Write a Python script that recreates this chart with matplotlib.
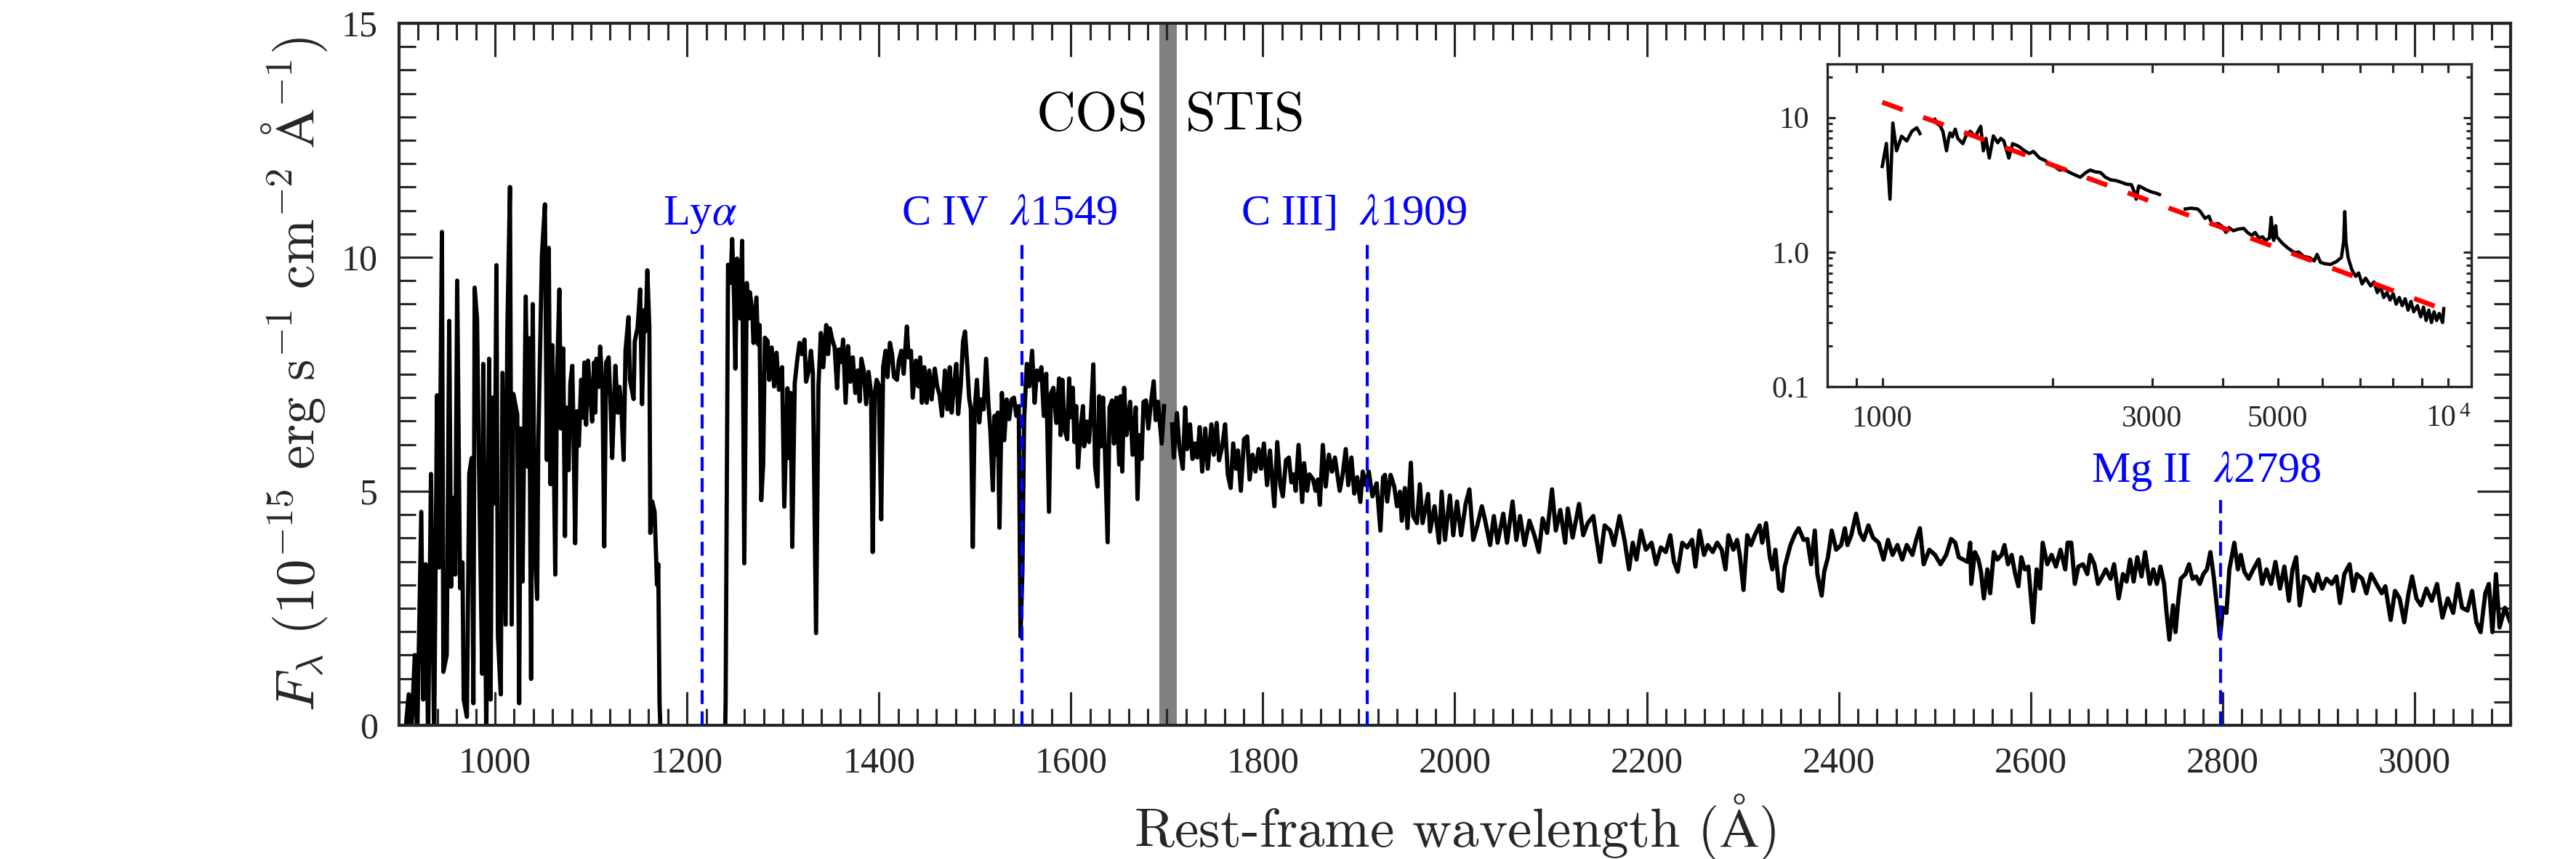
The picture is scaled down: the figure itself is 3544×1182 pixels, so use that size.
import numpy as np
import matplotlib
matplotlib.use("Agg")
import matplotlib.pyplot as plt
from matplotlib.ticker import MultipleLocator, FixedLocator, NullFormatter

plt.rcParams['font.family'] = 'serif'
plt.rcParams['font.serif'] = ['Liberation Serif', 'DejaVu Serif']
plt.rcParams['mathtext.fontset'] = 'cm'

AXC = '#262626'

# ---- main spectrum, COS blue of Lya (flux in 1e-15 erg/s/cm2/A) ----
cos1_wave = [905, 910.1, 912.6, 916.4, 918.9, 923.2, 925.2, 927.8, 930.3, 933.3, 936.6, 939.6, 941.7,
             944.7, 946.2, 949.7, 952.3, 954.3, 956.8, 958.6, 960.6, 963.6, 966.1, 967.4, 970.7,
             973.2, 975.7, 977.5, 978.8, 981.3, 983.3, 986.6, 987.8, 990.9, 993.9, 995.4, 997.2,
             999.7, 1001.5, 1003.0, 1006.0, 1007.8, 1011.1, 1012.8, 1015.6, 1017.4, 1019.1, 1023.2,
             1025.2, 1026.7, 1028.7, 1032.0, 1034.5, 1035.6, 1037.6, 1039.3, 1041.4, 1043.9, 1045.1,
             1048.9, 1052.0, 1054.0, 1056.0, 1057.8, 1059.8, 1062.8, 1064.6, 1067.1, 1068.6, 1071.1,
             1072.9, 1074.2, 1076.7, 1078.5, 1080.5, 1081.7, 1083.5, 1085.5, 1087.3, 1089.8, 1091.8,
             1093.1, 1094.9, 1096.9, 1099.4, 1101.2, 1103.2, 1104.5, 1105.7, 1108.3, 1109.5, 1112.0,
             1113.8, 1115.8, 1118.4, 1120.4, 1122.1, 1125.4, 1127.9, 1129.7, 1131.5, 1134.0, 1136.0,
             1139.1, 1140.6, 1144.4, 1145.6, 1148.6, 1151.2, 1153.2, 1155.5, 1157.0, 1158.7, 1160.8,
             1161.8, 1163.8, 1166.3, 1168.8, 1170.1, 1171.4, 1173.0]
cos1_flux = [-0.5, 0.66, -0.3, 1.5, -0.3, 4.56, 0.55, 3.44, -0.3, 5.37, -0.3, 7.05, 3.37,
             10.54, 1.14, 1.5, 8.64, 2.96, 4.86, 3.22, 9.5, 2.93, 3.48, 0.55, 0.18,
             5.38, 5.71, 0.47, 9.35, 8.68, 5.6, 1.1, 7.72, -0.3, 7.83, 0.55, 7.0,
             4.74, 9.83, 1.92, 0.66, 7.53, 2.15, 8.35, 11.5, 2.15, 7.08, 6.64,
             0.47, 6.34, 3.07, 9.16, 5.52, 8.27, 0.99, 9.0, 3.89, 2.7, 6.04,
             10.05, 11.13, 5.67, 10.2, 5.15, 8.12, 3.22, 7.42, 9.31, 6.34, 8.05,
             4.04, 6.79, 5.45, 7.31, 7.68, 6.42, 3.89, 6.71, 5.97, 7.38, 6.57,
             7.75, 6.42, 7.79, 7.01, 6.49, 7.75, 6.68, 7.83, 7.23, 8.09, 7.2,
             3.82, 7.75, 7.86, 6.86, 5.71, 7.68, 6.68, 7.23, 6.86, 5.67, 8.01,
             8.72, 7.38, 6.97, 8.2, 8.5, 9.31, 6.86, 8.87, 8.42, 9.72, 8.5,
             4.11, 4.78, 4.56, 3.0, 3.44, 0.5, -0.5]

# ---- main spectrum, COS red of Lya ----
cos2_wave = [1239.5, 1240.3, 1242.8, 1245.4, 1247.1, 1249.1, 1250.4, 1252.2, 1254.2, 1255.5, 1257.5,
             1259.7, 1262.3, 1264.3, 1265.6, 1268.1, 1269.3, 1272.4, 1273.9, 1275.7, 1277.4, 1279.4,
             1281.2, 1284.0, 1285.7, 1288.3, 1290.8, 1293.3, 1295.8, 1299.1, 1301.4, 1304.7, 1305.9,
             1308.0, 1309.7, 1312.3, 1314.8, 1317.3, 1319.8, 1322.4, 1324.1, 1326.9, 1329.2, 1331.2,
             1334.5, 1337.0, 1339.5, 1342.0, 1345.1, 1347.1, 1348.9, 1351.4, 1353.9, 1356.4, 1358.4,
             1360.7, 1362.7, 1365.3, 1367.8, 1370.3, 1372.8, 1375.4, 1377.9, 1379.9, 1381.7, 1384.2,
             1386.7, 1389.2, 1391.8, 1393.5, 1395.6, 1397.6, 1399.8, 1402.4, 1404.4, 1406.9, 1408.9,
             1411.5, 1413.7, 1415.7, 1418.8, 1420.8, 1423.3, 1425.8, 1429.1, 1430.9, 1433.4, 1435.2,
             1438.5, 1441.0, 1443.0, 1444.8, 1447.3, 1449.8, 1452.4, 1454.9, 1458.2, 1460.7, 1463.2,
             1465.7, 1468.8, 1471.3, 1473.8, 1475.8, 1478.4, 1480.6, 1482.6, 1485.2, 1487.7, 1489.7,
             1492.0, 1494.0, 1495.8, 1497.8, 1499.8, 1502.1, 1504.6, 1506.6, 1509.1, 1511.7, 1514.2,
             1516.2, 1518.7, 1520.5, 1522.3, 1523.8, 1525.6, 1528.1, 1530.6, 1533.1, 1535.7, 1538.2,
             1540.7, 1543.2, 1545.7, 1547.5, 1549.5, 1551.3, 1554.1, 1556.6, 1559.6, 1562.2, 1564.7,
             1567.2, 1569.2, 1571.8, 1574.3, 1577.2, 1579.2, 1581.8, 1584.8, 1587.8, 1589.3, 1591.1,
             1593.6, 1596.2, 1598.2, 1599.9, 1602.0, 1603.7, 1605.5, 1607.5, 1610.0, 1612.6, 1613.8,
             1616.4, 1618.9, 1620.9, 1623.4, 1625.2, 1627.7, 1629.5, 1631.5, 1633.5, 1635.3, 1638.3,
             1640.3, 1642.9, 1644.9, 1647.4, 1650.4, 1651.7, 1653.5, 1655.5, 1658.0, 1661.8, 1664.3,
             1667.6, 1669.4, 1671.4, 1673.7, 1675.7, 1678.2, 1680.7, 1683.2, 1686.3, 1688.3, 1690.8,
             1694.6, 1697.1]
cos2_flux = [-0.5, 0.5, 9.84, 9.45, 10.39, 9.11, 7.62, 9.97, 9.73, 8.69, 10.35,
             3.46, 9.45, 8.69, 9.25, 8.83, 8.17, 9.14, 8.14, 8.55, 4.81, 5.57,
             8.28, 8.21, 7.38, 8.07, 7.24, 7.96, 7.17, 7.65, 4.67, 7.2, 5.71,
             7.1, 3.81, 7.31, 7.79, 8.17, 7.93, 8.24, 7.34, 7.58, 8.0, 7.51,
             1.97, 7.24, 8.38, 7.65, 8.55, 7.93, 8.48, 8.24, 8.07, 7.2, 8.03,
             7.76, 8.24, 6.89, 8.1, 7.34, 7.86, 7.1, 7.58, 6.92, 7.83, 7.58,
             6.86, 7.55, 7.1, 3.70, 7.06, 7.38, 7.27, 4.4, 7.65, 8.0, 7.44,
             8.17, 7.93, 7.44, 7.38, 7.79, 8.0, 7.51, 8.52, 7.86, 8.0, 7.0,
             7.79, 7.24, 7.86, 6.89, 7.65, 6.89, 7.58, 6.96, 7.62, 7.24, 7.06,
             6.61, 7.58, 6.75, 7.65, 6.68, 7.31, 7.72, 6.65, 7.24, 8.21, 8.41,
             7.72, 6.99, 6.75, 3.81, 6.75, 7.38, 6.47, 6.96, 6.75, 7.83, 6.82,
             6.27, 5.02, 6.61, 5.78, 6.68, 4.22, 7.1, 6.09, 6.96, 6.54, 6.96,
             7.0, 6.61, 6.82, 1.9, 3.29, 6.54, 7.72, 7.24, 8.0, 6.89, 7.58,
             7.38, 7.65, 6.61, 7.51, 4.56, 7.09, 7.21, 6.46, 7.41, 6.2, 7.38,
             6.31, 6.11, 7.41, 6.58, 7.21, 6.05, 6.82, 5.51, 6.31, 6.82, 5.96,
             6.49, 6.05, 6.64, 7.71, 5.54, 5.1, 7.03, 5.96, 7.0, 5.99, 3.91,
             6.79, 6.94, 6.02, 7.0, 5.57, 7.03, 5.42, 7.21, 6.2, 6.91, 5.78,
             6.79, 4.83, 6.2, 5.69, 6.91, 6.94, 6.34, 6.85, 7.35, 6.52, 6.91,
             6.02, 6.82]

# ---- main spectrum, STIS ----
stis_wave = [1705.5, 1707.2, 1710.5, 1713.0, 1716.6, 1719.1, 1721.1, 1724.1, 1726.7, 1729.2, 1731.7,
             1734.2, 1736.8, 1740.0, 1742.6, 1746.4, 1748.9, 1751.9, 1754.4, 1757.7, 1760.7, 1763.5,
             1766.5, 1769.1, 1772.1, 1774.1, 1777.1, 1780.4, 1783.7, 1786.2, 1789.3, 1792.3, 1795.6,
             1798.1, 1801.1, 1804.4, 1807.4, 1812.0, 1815.0, 1818.3, 1820.8, 1824.1, 1827.1, 1829.7,
             1832.2, 1834.2, 1837.2, 1841.0, 1843.0, 1846.1, 1848.6, 1852.4, 1854.9, 1857.4, 1859.4,
             1862.5, 1865.5, 1868.8, 1872.1, 1875.1, 1877.6, 1880.1, 1883.2, 1886.4, 1889.0, 1892.3,
             1895.3, 1898.3, 1901.6, 1904.1, 1907.4, 1910.4, 1914.2, 1918.6, 1922.5, 1925.3, 1927.2,
             1929.6, 1933.1, 1937.0, 1939.8, 1942.9, 1944.8, 1948.0, 1950.7, 1954.2, 1956.6, 1960.5,
             1963.6, 1966.4, 1972.2, 1974.2, 1978.9, 1983.6, 1986.3, 1989.8, 1994.9, 1998.4, 2002.3,
             2006.6, 2011.3, 2015.2, 2019.2, 2023.1, 2028.2, 2031.7, 2036.8, 2040.7, 2044.6, 2050.5,
             2054.4, 2060.2, 2064.1, 2068.0, 2072.7, 2077.8, 2082.9, 2087.6, 2091.5, 2096.2, 2101.3,
             2105.2, 2109.9, 2115.0, 2117.7, 2122.8, 2129.5, 2133.8, 2138.5, 2144.3, 2147.1, 2151.4,
             2156.1, 2161.9, 2165.8, 2171.7, 2176.8, 2181.5, 2185.4, 2189.3, 2194.0, 2199.1, 2205.0,
             2209.7, 2214.7, 2219.8, 2224.5, 2228.4, 2232.3, 2237.0, 2242.1, 2247.2, 2250.7, 2255.0,
             2259.7, 2263.6, 2268.7, 2273.4, 2278.1, 2282.0, 2285.1, 2290.2, 2294.1, 2296.9, 2300.8,
             2304.7, 2308.6, 2312.5, 2317.6, 2320.3, 2324.3, 2328.2, 2330.9, 2334.0, 2337.9, 2341.1,
             2343.8, 2349.7, 2354.4, 2358.3, 2363.4, 2367.3, 2371.2, 2375.1, 2377.8, 2382.2, 2384.9,
             2388.8, 2392.7, 2397.4, 2402.5, 2406.4, 2409.1, 2413.1, 2418.1, 2422.1, 2426.0, 2431.0,
             2435.7, 2441.6, 2446.7, 2451.4, 2456.1, 2461.2, 2466.2, 2470.9, 2476.8, 2480.7, 2484.6,
             2488.5, 2494.4, 2500.3, 2506.1, 2512.0, 2517.1, 2521.4, 2525.1, 2529.6, 2534.4, 2537.0,
             2538.1, 2541.9, 2545.6, 2548.2, 2551.2, 2554.9, 2557.8, 2561.6, 2565.3, 2569.7, 2572.7,
             2576.4, 2580.2, 2583.9, 2587.2, 2590.2, 2593.9, 2597.6, 2602.5, 2606.2, 2609.9, 2612.5,
             2617.3, 2621.8, 2626.3, 2631.1, 2636.0, 2638.5, 2642.3, 2646.0, 2649.7, 2654.5, 2659.0,
             2662.0, 2666.4, 2670.2, 2674.6, 2678.3, 2683.2, 2686.9, 2691.7, 2696.2, 2699.9, 2703.6,
             2707.3, 2711.1, 2715.5, 2719.2, 2724.1, 2727.8, 2731.5, 2735.2, 2739.0, 2741.6, 2744.5,
             2748.3, 2750.9, 2753.8, 2756.4, 2761.3, 2765.0, 2768.7, 2772.4, 2776.1, 2779.9, 2783.6,
             2787.3, 2791.0, 2794.7, 2797.3, 2800.3, 2804.0, 2807.0, 2812.2, 2815.9, 2818.9, 2822.6,
             2827.1, 2831.9, 2837.5, 2841.2, 2845.7, 2850.5, 2855.0, 2859.8, 2864.3, 2869.1, 2872.8,
             2876.6, 2880.3, 2885.1, 2889.6, 2895.1, 2898.9, 2903.7, 2908.2, 2913.7, 2918.6, 2922.3,
             2926.8, 2932.3, 2936.1, 2939.8, 2945.4, 2949.8, 2954.7, 2960.2, 2965.8, 2969.5, 2975.1,
             2979.6, 2984.4, 2989.2, 2993.7, 2997.4, 3001.9, 3006.7, 3012.3, 3017.9, 3023.4, 3029.0,
             3034.6, 3040.2, 3045.0, 3049.5, 3055.1, 3059.9, 3064.4, 3068.8, 3073.7, 3077.4, 3081.1,
             3084.8, 3088.5, 3094.1, 3099.7, 3103.4]
stis_flux = [6.43, 5.72, 6.67, 5.96, 5.48, 6.79, 5.9, 6.43, 5.69, 6.02, 5.72,
             6.37, 5.42, 6.34, 5.48, 6.43, 5.78, 6.46, 5.66, 5.96, 6.43, 5.36,
             5.07, 6.02, 5.48, 5.87, 5.01, 6.11, 6.17, 5.25, 5.78, 5.42, 5.9,
             5.48, 6.02, 5.13, 5.87, 4.68, 6.05, 5.13, 4.89, 5.66, 5.72, 5.19,
             5.36, 5.01, 5.99, 4.77, 5.6, 5.01, 5.36, 5.25, 5.01, 5.25, 4.71,
             5.99, 5.1, 5.78, 5.42, 5.72, 5.36, 5.01, 5.36, 5.9, 5.13, 5.72,
             4.95, 5.3, 4.77, 5.42, 5.13, 5.42, 4.89, 5.17, 4.16, 5.3, 5.35,
             4.78, 5.35, 5.09, 4.68, 4.99, 4.37, 5.07, 4.21, 5.61, 4.47, 4.32,
             5.15, 4.32, 4.94, 4.14, 4.68, 3.9, 4.99, 3.96, 4.91, 4.06, 4.78,
             4.06, 4.73, 5.04, 3.96, 4.24, 4.68, 4.37, 3.85, 4.47, 3.9, 4.52,
             3.9, 4.78, 3.96, 4.47, 3.85, 4.37, 4.06, 3.7, 4.42, 4.11, 5.04,
             4.16, 4.6, 3.9, 4.63, 4.01, 4.73, 4.06, 4.32, 4.47, 4.06, 3.49,
             4.27, 4.16, 3.85, 4.47, 3.96, 3.33, 3.9, 3.54, 4.16, 3.75, 3.9,
             3.44, 3.8, 3.7, 4.06, 3.49, 3.28, 3.9, 3.8, 3.96, 3.39, 4.16,
             3.64, 3.85, 3.7, 3.9, 3.75, 3.33, 4.06, 3.75, 3.96, 3.64, 2.89,
             4.06, 3.85, 4.06, 4.27, 3.9, 4.32, 3.59, 3.33, 3.75, 2.92, 2.87,
             3.39, 3.85, 4.08, 4.21, 3.96, 3.98, 3.44, 4.16, 3.23, 2.77, 3.28,
             3.59, 4.16, 3.75, 3.85, 4.21, 3.85, 4.06, 4.52, 4.11, 3.96, 4.27,
             4.01, 3.9, 3.54, 3.96, 3.64, 3.85, 3.54, 3.85, 3.64, 3.96, 4.21,
             3.44, 3.75, 3.64, 3.44, 3.64, 3.98, 3.9, 3.59, 3.54, 3.49, 3.9,
             3.02, 3.7, 3.54, 3.28, 2.71, 3.33, 2.82, 3.7, 3.54, 3.64, 3.85,
             3.44, 3.64, 3.23, 2.97, 3.59, 3.33, 3.39, 2.2, 3.33, 2.92, 3.9,
             3.44, 3.64, 3.39, 3.75, 3.33, 3.9, 3.9, 3.02, 3.39, 3.44, 3.23,
             3.64, 3.44, 3.02, 3.18, 3.33, 3.13, 3.44, 2.71, 3.23, 3.07, 3.54,
             3.07, 3.59, 3.18, 3.7, 3.02, 3.33, 3.02, 3.39, 3.02, 2.4, 1.83,
             2.56, 1.99, 2.66, 3.13, 3.23, 3.44, 3.13, 3.18, 3.02, 3.23, 3.33,
             3.7, 3.13, 2.4, 1.88, 2.51, 2.4, 3.33, 3.9, 3.33, 3.64, 3.28,
             3.13, 3.33, 3.54, 3.02, 3.33, 3.02, 3.49, 2.92, 3.39, 2.66, 3.33,
             3.59, 2.56, 3.18, 3.13, 2.87, 3.23, 2.92, 3.13, 3.02, 3.18, 2.61,
             3.23, 3.44, 2.87, 3.23, 3.13, 2.82, 3.23, 3.02, 2.82, 2.97, 2.25,
             2.87, 2.71, 2.2, 2.82, 3.18, 2.71, 2.56, 2.92, 2.66, 3.02, 2.3,
             2.71, 2.4, 3.02, 2.51, 2.45, 2.87, 2.2, 1.99, 2.82, 3.02, 1.99,
             3.23, 2.09, 2.51, 2.2, 2.51]

# ---- emission line markers ----
line_names = [r'Ly$\alpha$', r'C IV  $\lambda$1549', r'C III]  $\lambda$1909', r'Mg II  $\lambda$2798']
line_waves = [1215.67, 1549, 1909, 2798]
line_tops = [10.35, 10.35, 10.3, 4.81]
label_x = [1214, 1536, 1895, 2783]
label_y = [10.7, 10.7, 10.7, 5.2]

# ---- inset: full spectrum in log-log, three pieces ----
ins1_wave = [1000, 1017, 1032, 1044, 1060, 1082, 1105, 1128, 1151, 1166]
ins1_flux = [4.33, 6.42, 2.47, 9.1, 5.66, 7.26, 6.7, 7.9, 8.4, 7.6]
ins2_wave = [1239, 1250, 1264, 1280, 1299, 1310, 1318, 1330, 1346, 1360, 1388, 1410, 1431, 1460,
             1493, 1509, 1525, 1546, 1572, 1600, 1620, 1640, 1674, 1700, 1744, 1780, 1819, 1850,
             1897, 1940, 1978, 2020, 2060, 2100, 2146, 2190, 2239, 2290, 2331, 2380, 2432, 2480,
             2536, 2590, 2646, 2700, 2757, 2790, 2811, 2840, 2870, 2930, 2990, 3040, 3090]
ins2_flux = [9.7, 9.0, 8.75, 7.9, 5.66, 7.0, 7.7, 7.2, 8.2, 7.0, 6.4, 7.5, 7.9, 7.2,
             8.6, 5.66, 7.0, 5.0, 7.3, 6.5, 7.0, 6.7, 5.0, 6.4, 6.1, 5.7, 5.4, 5.6,
             5.0, 4.8, 4.5, 4.3, 4.07, 4.1, 3.9, 3.75, 3.6, 3.9, 4.07, 3.95, 3.9, 3.6,
             3.44, 3.4, 3.30, 3.2, 3.17, 2.8, 2.47, 3.1, 3.04, 2.9, 2.8, 2.75, 2.68]
ins3_wave = [3432, 3520, 3609, 3650, 3721, 3780, 3830, 3923, 3990, 4050, 4100, 4177, 4250, 4355,
             4420, 4500, 4560, 4635, 4700, 4760, 4834, 4870, 4900, 4920, 4960, 4980, 5090, 5200,
             5350, 5450, 5550, 5690, 5800, 5870, 5950, 6050, 6200, 6350, 6480, 6540, 6570, 6600,
             6660, 6760, 6870, 6950, 7050, 7150, 7300, 7400, 7500, 7600, 7700, 7800, 7900, 8000,
             8100, 8200, 8300, 8400, 8500, 8600, 8700, 8830, 8950, 9050, 9150, 9250, 9350, 9450,
             9550, 9650, 9780, 9830]
ins3_flux = [2.09, 2.12, 2.09, 2.0, 1.78, 1.85, 1.6, 1.63, 1.55, 1.40, 1.52, 1.44, 1.48, 1.50,
             1.40, 1.33, 1.40, 1.27, 1.30, 1.22, 1.27, 1.81, 1.3, 1.22, 1.57, 1.3, 1.17, 1.08,
             0.99, 1.0, 0.93, 0.91, 0.86, 0.96, 0.84, 0.82, 0.81, 0.85, 0.91, 1.2, 2.0, 1.2,
             0.91, 0.74, 0.66, 0.70, 0.58, 0.64, 0.56, 0.60, 0.50, 0.55, 0.46, 0.50, 0.44, 0.49,
             0.41, 0.46, 0.40, 0.45, 0.37, 0.43, 0.36, 0.40, 0.33, 0.39, 0.31, 0.37, 0.30, 0.36,
             0.31, 0.35, 0.30, 0.38]
pl_wave = [1000, 10000]
pl_flux = [13.0, 0.365]

fig = plt.figure(figsize=(3544 / 300, 1182 / 300), dpi=300)
ax = fig.add_axes([0.1549, 0.1557, 0.8197, 0.8173])

ax.axvspan(1692, 1710, color='#808080', lw=0, zorder=1)
for w, f in [(cos1_wave, cos1_flux), (cos2_wave, cos2_flux), (stis_wave, stis_flux)]:
    ax.plot(w, f, color='k', lw=1.4, zorder=2)
ax.vlines(line_waves, 0, line_tops, colors='b', linestyles=(0, (4.6, 2.4)), lw=1.0, zorder=3)
for name, x, y in zip(line_names, label_x, label_y):
    ax.text(x, y, name, color='b', fontsize=14.5, family='Liberation Serif',
            math_fontfamily='stix', ha='center', va='baseline')

ax.text(1681, 12.72, 'COS', fontsize=18, family='cmr10', ha='right', va='baseline')
ax.text(1719, 12.72, 'STIS', fontsize=18, family='cmr10', ha='left', va='baseline')

ax.set_xlim(900, 3100)
ax.set_ylim(0, 15)
ax.set_xticks(np.arange(1000, 3001, 200))
ax.xaxis.set_minor_locator(MultipleLocator(20))
ax.set_yticks([0, 5, 10, 15])
ax.yaxis.set_minor_locator(MultipleLocator(0.5))
ax.tick_params(which='both', direction='in', top=True, right=True, color=AXC,
               labelcolor=AXC, width=0.75, labelsize=12, pad=7)
ax.tick_params(which='major', length=11)
ax.tick_params(which='minor', length=5.5)
for s in ax.spines.values():
    s.set_linewidth(1.0)
    s.set_color(AXC)
ax.set_xlabel(r'Rest-frame wavelength ($\mathrm{\AA}$)', fontsize=18, family='cmr10',
              color=AXC, labelpad=4)
ax.set_ylabel(r'$F_\lambda\ (10^{-15}\ \mathrm{erg\ s^{-1}\ cm^{-2}\ \AA^{-1}})$',
              fontsize=18, color=AXC, labelpad=4)

# ---- inset ----
axin = fig.add_axes([0.7094, 0.5499, 0.25, 0.3756])
for w, f in [(ins1_wave, ins1_flux), (ins2_wave, ins2_flux), (ins3_wave, ins3_flux)]:
    axin.plot(w, f, color='k', lw=1.1, zorder=2)
axin.plot(pl_wave, pl_flux, color='r', lw=1.6, dashes=(4.5, 4.5), zorder=3)
axin.set_xscale('log')
axin.set_yscale('log')
axin.set_xlim(800, 11000)
axin.set_ylim(0.1, 25)
axin.xaxis.set_major_locator(FixedLocator([1000, 3000, 5000, 10000]))
axin.xaxis.set_minor_locator(FixedLocator([900, 2000, 4000, 6000, 7000, 8000, 9000]))
axin.set_xticklabels(['1000', '3000', '5000', r'$\mathregular{10^{\,4}}$'])
axin.xaxis.set_minor_formatter(NullFormatter())
axin.yaxis.set_major_locator(FixedLocator([0.1, 1, 10]))
axin.yaxis.set_minor_locator(FixedLocator([0.2, 0.3, 0.4, 0.5, 0.6, 0.7, 0.8, 0.9,
                                           2, 3, 4, 5, 6, 7, 8, 9, 20]))
axin.set_yticklabels(['0.1', '1.0', '10'])
axin.yaxis.set_minor_formatter(NullFormatter())
axin.tick_params(which='both', direction='in', top=True, right=True, color=AXC,
                 labelcolor=AXC, width=0.75, labelsize=10, pad=6)
axin.tick_params(axis='x', which='both', length=2.8)
axin.tick_params(axis='y', which='major', length=2.6)
axin.tick_params(axis='y', which='minor', length=1.6)
for s in axin.spines.values():
    s.set_linewidth(0.8)
    s.set_color(AXC)

fig.savefig('out.png', dpi=300)
